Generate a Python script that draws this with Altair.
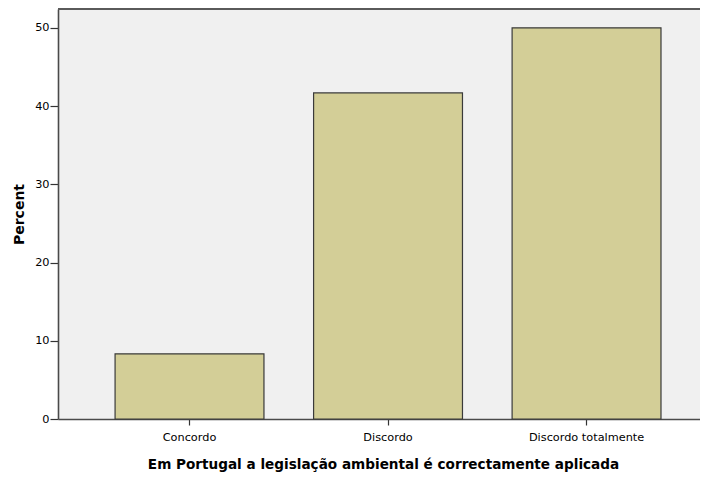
import altair as alt
import pandas as pd

categories = ["Concordo", "Discordo", "Discordo totalmente"]
percents = [8.33, 41.67, 50.0]
y_ticks = [0, 10, 20, 30, 40, 50]

df = pd.DataFrame({"cat": categories, "pct": percents})

W, H = 642, 410

bars = alt.Chart(df).mark_bar(
    fill="#d3ce97", stroke="#3a3a3a", strokeWidth=1.2
).encode(
    x=alt.X(
        "cat:N",
        sort=categories,
        scale=alt.Scale(paddingInner=0.25, paddingOuter=0.242, align=0.594),
        axis=alt.Axis(
            title="Em Portugal a legislação ambiental é correctamente aplicada",
            labelAngle=0,
            labelFont="DejaVu Sans",
            labelFontSize=11.3,
            labelColor="#000000",
            labelPadding=6,
            tickSize=6,
            tickColor="#333333",
            tickWidth=1.2,
            domainColor="#4a4a4a",
            domainWidth=1.6,
            titleFont="DejaVu Sans",
            titleFontSize=13.6,
            titleFontWeight="bold",
            titleColor="#000000",
            titlePadding=15,
            titleX=325,
        ),
    ),
    y=alt.Y(
        "pct:Q",
        scale=alt.Scale(domain=[0, 52.4], nice=False, zero=True),
        axis=alt.Axis(
            title="Percent",
            values=y_ticks,
            grid=False,
            labelFont="DejaVu Sans",
            labelFontSize=11.3,
            labelColor="#000000",
            labelPadding=1,
            tickSize=8,
            tickColor="#333333",
            tickWidth=1.2,
            domainColor="#4a4a4a",
            domainWidth=1.6,
            titleFont="DejaVu Sans",
            titleFontSize=14,
            titleFontWeight="bold",
            titleColor="#000000",
            titlePadding=8,
        ),
    ),
)

top_line = alt.Chart(df).mark_rule(color="#5a5a5a", strokeWidth=2).encode(
    x=alt.value(0), x2=alt.value(W), y=alt.value(0)
)

chart = alt.layer(bars, top_line).properties(
    width=W,
    height=H,
    autosize=alt.AutoSizeParams(type="none"),
    padding={"left": 50, "top": 1, "right": 0, "bottom": 60},
    background="#ffffff",
).configure_view(
    fill="#f0f0f0", stroke=None
)

chart.save("out.html", embed_options={"renderer": "svg", "actions": False})
